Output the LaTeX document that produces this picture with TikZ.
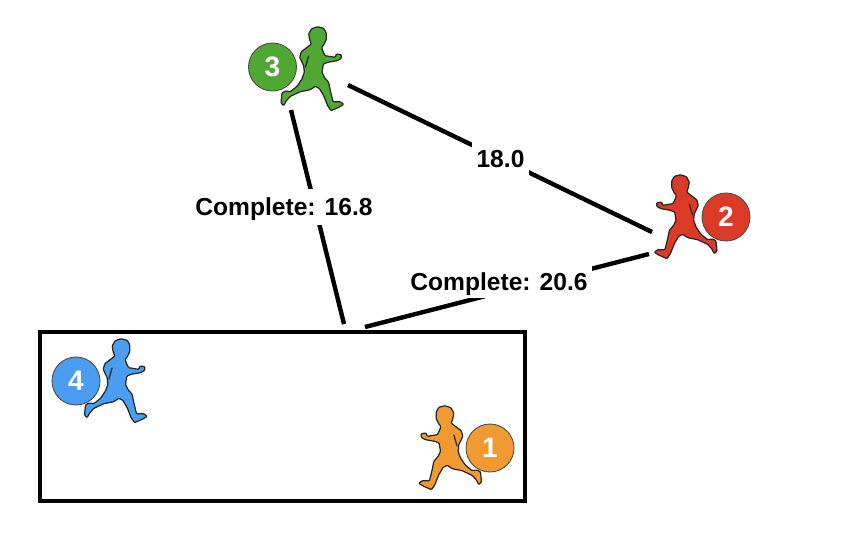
\documentclass[tikz,border=0pt]{standalone}
\usepackage{fontspec}
\setmainfont{Liberation Sans}
\usetikzlibrary{positioning, calc}
\definecolor{runnerGreen}{RGB}{80, 168, 50}
\definecolor{runnerRed}{RGB}{219, 58, 38}
\definecolor{runnerBlue}{RGB}{74, 157, 240}
\definecolor{runnerOrange}{RGB}{241, 154, 49}
\begin{document}
\begin{tikzpicture}[
        x=0.02cm, y=-0.02cm,
        badge/.style={circle, draw=black!70, line width=0.5pt, minimum size=0.96cm, inner sep=0pt, text=white, font=\fontsize{16}{16}\selectfont\bfseries},
        leg/.style={line width=2.5pt, black},
        legend/.style={fill=white, inner xsep=2.5pt, inner ysep=5.5pt, text height=10pt, text depth=0pt, font=\fontsize{14}{14}\selectfont\bfseries},
        runner/.pic={
            \fill[pic actions, draw=black!85, line width=0.7pt, line join=round, rounded corners=0.5pt, x=0.00667cm, y=-0.00667cm]
                (17,-127) -- (35,-122) -- (43,-108) -- (43,-88) -- (35,-72) -- (29,-65) -- (32,-55) -- (39,-40) -- (70,-35) -- (73,-45) -- (88,-43) -- (88,-32)
                -- (75,-25) -- (47,-20) -- (34,-15) -- (30,10) -- (37,25) -- (50,40) -- (55,65) -- (63,98) -- (85,98) -- (95,106) -- (80,115) -- (57,125)
                -- (47,110) -- (35,80) -- (22,58) -- (10,52) -- (-5,62) -- (-35,68) -- (-65,82) -- (-77,95) -- (-85,110) -- (-93,102) -- (-90,72) -- (-80,66)
                -- (-65,68) -- (-45,52) -- (-30,30) -- (-23,10) -- (-25,-10) -- (-37,-35) -- (-32,-52) -- (-12,-67) -- (-2,-75) -- (-7,-88) -- (-10,-105) -- (-1,-121) -- cycle;
            \draw[black!85, line width=0.7pt, x=0.00667cm, y=-0.00667cm] (-10,-40) -- (-20,-5);
        }
    ]
        \useasboundingbox (0,0) rectangle (860,556);

        % Runners
        \pic[fill=runnerGreen] (r3) at (312,69) {runner};
        \pic[fill=runnerRed, xscale=-1] (r2) at (686,217) {runner};
        \pic[fill=runnerBlue] (r4) at (115.5,381) {runner};
        \pic[fill=runnerOrange, xscale=-1] (r1) at (450.5,448) {runner};

        \node[badge, fill=runnerGreen] (b3) at (272.5,67) {3};
        \node[badge, fill=runnerRed] (b2) at (726,217) {2};
        \node[badge, fill=runnerBlue] (b4) at (76,381) {4};
        \node[badge, fill=runnerOrange] (b1) at (490,448) {1};

        % Zone
        \node[draw=black, line width=2pt, minimum width=9.7cm, minimum height=3.38cm, inner sep=0pt] (zone) at (282.5,416.5) {};

        % Legs
        \coordinate (s3a) at (348,85);
        \coordinate (e2a) at (652,232);
        \coordinate (s3b) at (291,110);
        \coordinate (e4a) at (344,324);
        \coordinate (s2b) at (649,254);
        \coordinate (e4b) at (365,327);
        \draw[leg] (s3a) -- (e2a);
        \draw[leg] (s3b) -- (e4a);
        \draw[leg] (s2b) -- (e4b);

        % Labels
        \node[legend] (l18) at (500.5,159) {18.0};
        \node[legend] (l16) at (284,207) {Complete: 16.8};
        \node[legend, inner ysep=4pt] (l20) at (499,282) {Complete: 20.6};
    \end{tikzpicture}
\end{document}
